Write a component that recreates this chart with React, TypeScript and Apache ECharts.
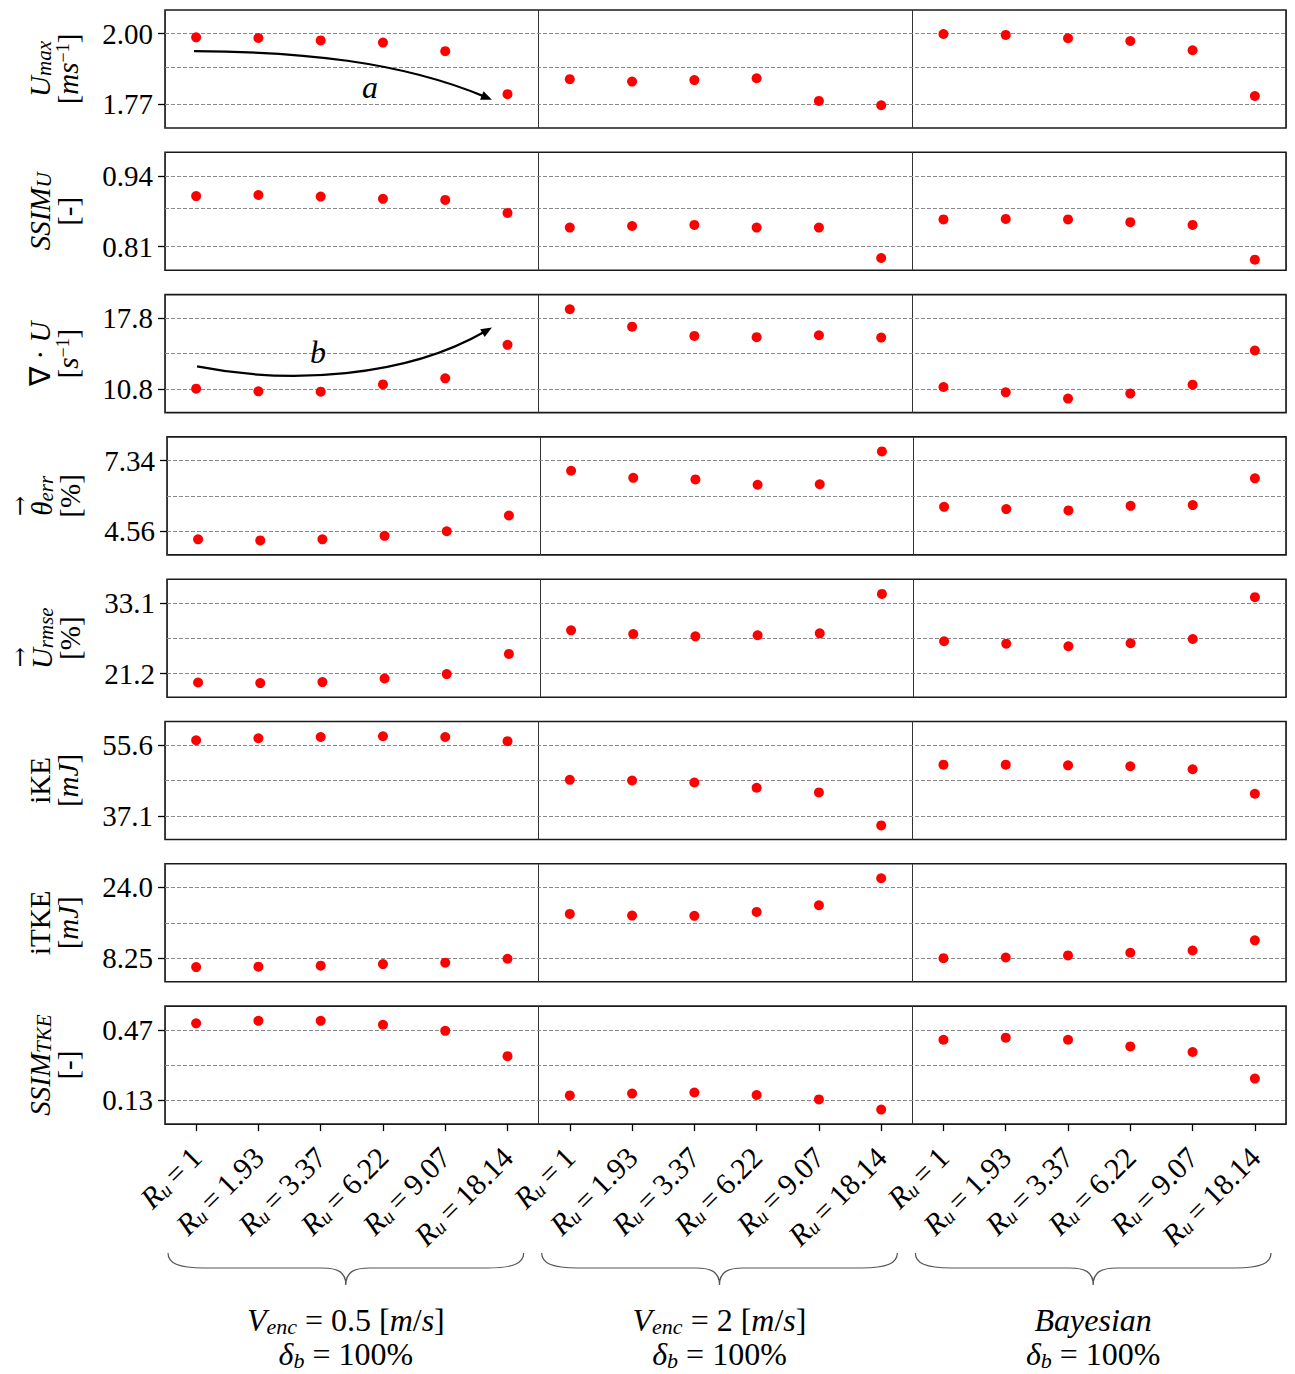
import React, { useEffect, useRef } from "react";
import * as echarts from "echarts";

// ---------- DATA ----------
const ruLabels = ["1", "1.93", "3.37", "6.22", "9.07", "18.14"];
const groupKeys = ["venc05", "venc2", "bayes"];
const categories = groupKeys.flatMap((g) => ruLabels.map((r) => `${g}:${r}`));

const uMaxVenc05 = [1.988, 1.986, 1.978, 1.971, 1.943, 1.803];
const uMaxVenc2 = [1.852, 1.844, 1.849, 1.855, 1.781, 1.767];
const uMaxBayes = [1.999, 1.996, 1.985, 1.976, 1.946, 1.797];
const uMaxTicks = ["1.77", "2.00"];

const ssimUVenc05 = [0.903, 0.905, 0.902, 0.898, 0.896, 0.872];
const ssimUVenc2 = [0.845, 0.848, 0.85, 0.845, 0.845, 0.789];
const ssimUBayes = [0.86, 0.861, 0.86, 0.855, 0.85, 0.786];
const ssimUTicks = ["0.81", "0.94"];

const divVenc05 = [10.83, 10.56, 10.53, 11.25, 11.85, 15.17];
const divVenc2 = [18.69, 16.97, 16.05, 15.93, 16.12, 15.89];
const divBayes = [10.99, 10.46, 9.84, 10.34, 11.22, 14.61];
const divTicks = ["10.8", "17.8"];

const thetaVenc05 = [4.24, 4.2, 4.24, 4.38, 4.56, 5.18];
const thetaVenc2 = [6.94, 6.66, 6.6, 6.39, 6.41, 7.7];
const thetaBayes = [5.52, 5.43, 5.38, 5.56, 5.59, 6.64];
const thetaTicks = ["4.56", "7.34"];

const rmseVenc05 = [19.69, 19.59, 19.76, 20.36, 21.1, 24.5];
const rmseVenc2 = [28.47, 27.85, 27.47, 27.64, 27.97, 34.61];
const rmseBayes = [26.63, 26.23, 25.79, 26.3, 27.02, 34.06];
const rmseTicks = ["21.2", "33.1"];

const ikeVenc05 = [56.9, 57.42, 57.75, 57.94, 57.75, 56.64];
const ikeVenc2 = [46.52, 46.34, 45.82, 44.44, 43.22, 34.58];
const ikeBayes = [50.49, 50.49, 50.33, 50.07, 49.29, 42.89];
const ikeTicks = ["37.1", "55.6"];

const itkeVenc05 = [6.26, 6.35, 6.57, 6.93, 7.24, 8.12];
const itkeVenc2 = [18.11, 17.74, 17.67, 18.55, 20.03, 26.05];
const itkeBayes = [8.25, 8.4, 8.85, 9.44, 9.95, 12.22];
const itkeTicks = ["8.25", "24.0"];

const ssimTkeVenc05 = [0.501, 0.513, 0.513, 0.494, 0.465, 0.343];
const ssimTkeVenc2 = [0.154, 0.163, 0.168, 0.156, 0.135, 0.086];
const ssimTkeBayes = [0.422, 0.432, 0.422, 0.39, 0.363, 0.235];
const ssimTkeTicks = ["0.13", "0.47"];

const yNames = [
  "{i|U}{sub|max}\n{b|[}{i|ms}{sup|−1}{b|]}",
  "{i|SSIM}{sub|U}\n{b|[-]}",
  "{b|∇ · }{i|U}\n{b|[}{i|s}{sup|−1}{b|]}",
  "{arrT|→}\n{i|θ}{sub|err}\n{b|[%]}",
  "{arrU|→}\n{i|U}{sub|rmse}\n{b|[%]}",
  "{b|iKE}\n{b|[}{i|mJ}{b|]}",
  "{b|iTKE}\n{b|[}{i|mJ}{b|]}",
  "{i|SSIM}{sub|TKE}\n{b|[-]}",
];

const groupTitles = [
  "{i|V}{sub|enc}{n| = 0.5 [}{i|m}{n|/}{i|s}{n|]}\n{i|δ}{sub|b}{n| = 100%}",
  "{i|V}{sub|enc}{n| = 2 [}{i|m}{n|/}{i|s}{n|]}\n{i|δ}{sub|b}{n| = 100%}",
  "{i|Bayesian}\n{i|δ}{sub|b}{n| = 100%}",
];

// annotation arrows in data coordinates (x on 0..18 scale, y in row units)
const arrowA = [[0.466, 1.943], [2.168, 1.942], [3.774, 1.91], [5.25, 1.785]];
const arrowALabel = [3.29, 1.826];
const arrowB = [[0.514, 13.03], [2.007, 11.22], [3.854, 11.91], [5.25, 16.88]];
const arrowBLabel = [2.457, 14.48];

const rows = [
  { groups: [uMaxVenc05, uMaxVenc2, uMaxBayes], ticks: uMaxTicks },
  { groups: [ssimUVenc05, ssimUVenc2, ssimUBayes], ticks: ssimUTicks },
  { groups: [divVenc05, divVenc2, divBayes], ticks: divTicks },
  { groups: [thetaVenc05, thetaVenc2, thetaBayes], ticks: thetaTicks },
  { groups: [rmseVenc05, rmseVenc2, rmseBayes], ticks: rmseTicks },
  { groups: [ikeVenc05, ikeVenc2, ikeBayes], ticks: ikeTicks },
  { groups: [itkeVenc05, itkeVenc2, itkeBayes], ticks: itkeTicks },
  { groups: [ssimTkeVenc05, ssimTkeVenc2, ssimTkeBayes], ticks: ssimTkeTicks },
];

// ---------- LAYOUT ----------
const W = 1295;
const H = 1374;
const FONT = "Liberation Serif";
const GRID_LEFT = 165;
const GRID_W = 1121;
const GRID_H = 118;
const GRID_TOP0 = 10;
const GRID_STEP = 142.3;
const PAD = 0.335;

const BRACE_Y_END = 1253;
const BRACE_Y_FLAT = 1268;
const BRACE_Y_TIP = 1285;
const BRACE_INSET_L = 3;
const BRACE_INSET_R = 15;

function bracePath(x0: number, x1: number) {
  const xm = (x0 + x1) / 2;
  const a = BRACE_Y_END, f = BRACE_Y_FLAT, t = BRACE_Y_TIP;
  return [
    `M ${x0} ${a}`,
    `C ${x0} ${a + 10} ${x0 + 10} ${f} ${x0 + 36} ${f}`,
    `L ${xm - 24} ${f}`,
    `C ${xm - 8} ${f} ${xm} ${f + 4} ${xm} ${t}`,
    `C ${xm} ${f + 4} ${xm + 8} ${f} ${xm + 24} ${f}`,
    `L ${x1 - 36} ${f}`,
    `C ${x1 - 10} ${f} ${x1} ${a + 10} ${x1} ${a}`,
  ].join(" ");
}

const nameRich = {
  i: { fontFamily: FONT, fontStyle: "italic", fontSize: 29, lineHeight: 28, color: "#000" },
  b: { fontFamily: FONT, fontSize: 29, lineHeight: 28, color: "#000" },
  sub: { fontFamily: FONT, fontStyle: "italic", fontSize: 21, lineHeight: 10, verticalAlign: "bottom", color: "#000" },
  sup: { fontFamily: FONT, fontSize: 18, lineHeight: 10, verticalAlign: "top", color: "#000" },
  arrT: { fontFamily: "DejaVu Serif", fontSize: 24, lineHeight: 16, color: "#000", padding: [0, 20, 0, 0] },
  arrU: { fontFamily: "DejaVu Serif", fontSize: 24, lineHeight: 16, color: "#000", padding: [0, 38, 0, 0] },
};

const xLabelRich = {
  i: { fontFamily: FONT, fontStyle: "italic", fontSize: 30, lineHeight: 30, color: "#000" },
  n: { fontFamily: FONT, fontSize: 30, lineHeight: 30, color: "#000" },
  sub: { fontFamily: FONT, fontStyle: "italic", fontSize: 20, lineHeight: 10, verticalAlign: "bottom", color: "#000" },
};

const titleRich = {
  i: { fontFamily: FONT, fontStyle: "italic", fontSize: 32, lineHeight: 34, color: "#000" },
  n: { fontFamily: FONT, fontSize: 32, lineHeight: 34, color: "#000" },
  sub: { fontFamily: FONT, fontStyle: "italic", fontSize: 22, lineHeight: 12, verticalAlign: "bottom", color: "#000" },
};

function makeArrowSeries(rowIdx: number, ctrl: number[][], labelPos: number[], labelText: string) {
  return {
    type: "custom",
    coordinateSystem: "cartesian2d",
    xAxisIndex: 2 * rowIdx + 1,
    yAxisIndex: rowIdx,
    data: [[ctrl[0][0], ctrl[0][1]]],
    silent: true,
    clip: false,
    z: 4,
    renderItem: (_params: any, api: any) => {
      const p = ctrl.map((c) => api.coord(c));
      const [p0, p1, p2, p3] = p;
      const dx = p3[0] - p2[0];
      const dy = p3[1] - p2[1];
      const len = Math.hypot(dx, dy) || 1;
      const ux = dx / len, uy = dy / len;
      const hl = 11, hw = 4.5;
      const bx = p3[0] - ux * hl, by = p3[1] - uy * hl;
      const lp = api.coord(labelPos);
      return {
        type: "group",
        children: [
          {
            type: "bezierCurve",
            shape: {
              x1: p0[0], y1: p0[1],
              cpx1: p1[0], cpy1: p1[1],
              cpx2: p2[0], cpy2: p2[1],
              x2: bx + ux * 3, y2: by + uy * 3,
            },
            style: { stroke: "#000", lineWidth: 2.2, fill: "none" },
          },
          {
            type: "polygon",
            shape: { points: [[p3[0], p3[1]], [bx - uy * hw, by + ux * hw], [bx + uy * hw, by - ux * hw]] },
            style: { fill: "#000" },
          },
          {
            type: "text",
            x: lp[0],
            y: lp[1],
            style: { text: labelText, fontFamily: FONT, fontStyle: "italic", fontSize: 32, fill: "#000", align: "center", verticalAlign: "middle" },
          },
        ],
      };
    },
  };
}

function buildOption() {
  const grid: any[] = [];
  const xAxis: any[] = [];
  const yAxis: any[] = [];
  const series: any[] = [];
  const last = rows.length - 1;

  rows.forEach((row, i) => {
    const top = GRID_TOP0 + i * GRID_STEP;
    grid.push({ left: GRID_LEFT, top, width: GRID_W, height: GRID_H, show: true, borderColor: "#1a1a1a", borderWidth: 1.6, backgroundColor: "#fff" });

    xAxis.push({
      type: "category",
      gridIndex: i,
      data: categories,
      boundaryGap: true,
      position: "bottom",
      axisLine: { show: false },
      axisTick: { show: i === last, alignWithLabel: true, length: 7, lineStyle: { color: "#000", width: 1.3 } },
      axisLabel: {
        show: i === last,
        interval: 0,
        rotate: 45,
        margin: 28,
        fontFamily: FONT,
        fontSize: 30,
        color: "#000",
        formatter: (v: string) => `{i|R}{sub|u}{n|\u2009=\u2009${v.split(":")[1]}}`,
        rich: xLabelRich,
      },
      splitLine: { show: false },
    });
    xAxis.push({
      type: "value",
      gridIndex: i,
      min: 0,
      max: 18,
      interval: 6,
      position: "top",
      axisLine: { show: false },
      axisTick: { show: false },
      axisLabel: { show: false },
      splitLine: { show: true, lineStyle: { color: "#333", width: 1, type: "solid" } },
    });

    const lo = parseFloat(row.ticks[0]);
    const hi = parseFloat(row.ticks[1]);
    const span = hi - lo;
    const tickVals = [lo, hi];
    yAxis.push({
      type: "value",
      gridIndex: i,
      min: lo - PAD * span,
      max: hi + PAD * span,
      axisLine: { show: false },
      splitLine: { show: false },
      axisTick: { show: true, customValues: tickVals, length: 7, lineStyle: { color: "#000", width: 1.3 } },
      axisLabel: {
        customValues: tickVals,
        formatter: (v: number) => {
          const found = row.ticks.find((t) => Math.abs(parseFloat(t) - v) < 1e-6 * Math.max(1, Math.abs(v)));
          return found ?? "";
        },
        fontFamily: FONT,
        fontSize: 29,
        color: "#000",
        margin: 12,
      },
      name: yNames[i],
      nameLocation: "middle",
      nameRotate: 90,
      nameGap: 83,
      nameTextStyle: { fontFamily: FONT, fontSize: 29, color: "#000", lineHeight: 28, rich: nameRich },
    });

    const pts: number[][] = [];
    row.groups.forEach((vals, g) => vals.forEach((v, k) => pts.push([g * ruLabels.length + k, v])));
    series.push({
      type: "scatter",
      xAxisIndex: 2 * i,
      yAxisIndex: i,
      data: pts,
      symbol: "circle",
      symbolSize: 10,
      itemStyle: { color: "#ff0000", opacity: 1 },
      z: 3,
      silent: true,
      markLine: {
        silent: true,
        symbol: "none",
        z: 1,
        label: { show: false },
        lineStyle: { type: [4, 2], color: "#8a8a8a", width: 1 },
        data: [{ yAxis: lo }, { yAxis: (lo + hi) / 2 }, { yAxis: hi }],
      },
    });
  });

  series.push(makeArrowSeries(0, arrowA, arrowALabel, "a"));
  series.push(makeArrowSeries(2, arrowB, arrowBLabel, "b"));

  const groupW = GRID_W / 3;
  const graphic: any[] = [];
  groupTitles.forEach((title, g) => {
    const x0 = GRID_LEFT + g * groupW + BRACE_INSET_L;
    const x1 = GRID_LEFT + (g + 1) * groupW - BRACE_INSET_R;
    const xm = (x0 + x1) / 2;
    graphic.push({
      type: `brace${g}`,
      style: { stroke: "#555", lineWidth: 1.2, fill: "none" },
      silent: true,
    });
    graphic.push({
      type: "text",
      x: xm,
      y: 1337,
      silent: true,
      style: { text: title, rich: titleRich, align: "center", verticalAlign: "middle", fontFamily: FONT, fontSize: 32, fill: "#000" },
    });
  });

  return {
    animation: false,
    backgroundColor: "#fff",
    textStyle: { fontFamily: FONT },
    grid,
    xAxis,
    yAxis,
    series,
    graphic,
  };
}

export default function App() {
  const ref = useRef<HTMLDivElement | null>(null);
  useEffect(() => {
    if (!ref.current) return;
    const groupW = GRID_W / 3;
    for (let g = 0; g < 3; g++) {
      const x0 = GRID_LEFT + g * groupW + BRACE_INSET_L;
      const x1 = GRID_LEFT + (g + 1) * groupW - BRACE_INSET_R;
      echarts.graphic.registerShape(`brace${g}`, echarts.graphic.extendPath(bracePath(x0, x1), {}) as any);
    }
    const chart = echarts.init(ref.current, undefined, { renderer: "svg", width: W, height: H });
    chart.setOption(buildOption() as any);
    return () => chart.dispose();
  }, []);
  return (
    <div
      ref={ref}
      style={{ position: "absolute", left: 0, top: 0, width: W, height: H, background: "#fff" }}
    />
  );
}
